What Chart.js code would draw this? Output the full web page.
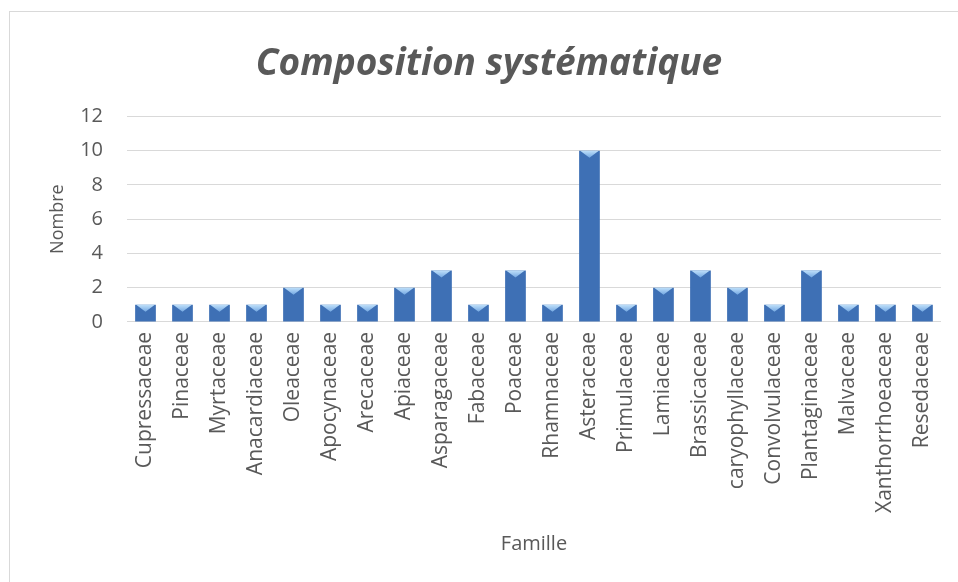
<!DOCTYPE html>
<html>
<head>
<meta charset="utf-8">
<script src="https://cdn.jsdelivr.net/npm/chart.js@4.4.0/dist/chart.umd.min.js"></script>
<style>
  html, body { margin: 0; padding: 0; background: #fff; }
  #wrap { position: relative; width: 958px; height: 582px; overflow: hidden; }
  #frame { position: absolute; left: 9px; top: 11px; width: 960px; height: 580px; border: 1px solid #D9D9D9; box-sizing: border-box; }
  #mycanvas { position: absolute; left: 0; top: 0; }
</style>
</head>
<body>
<div id="wrap">
  <div id="frame"></div>
  <canvas id="mycanvas" width="958" height="582"></canvas>
</div>
<script>
var familles = ['Cupressaceae', 'Pinaceae', 'Myrtaceae', 'Anacardiaceae', 'Oleaceae', 'Apocynaceae',
  'Arecaceae', 'Apiaceae', 'Asparagaceae', 'Fabaceae', 'Poaceae', 'Rhamnaceae', 'Asteraceae',
  'Primulaceae', 'Lamiaceae', 'Brassicaceae', 'caryophyllaceae', 'Convolvulaceae', 'Plantaginaceae',
  'Malvaceae', 'Xanthorrhoeaceae', 'Resedaceae'];
var nombre = [1, 1, 1, 1, 2, 1, 1, 2, 3, 1, 3, 1, 10, 1, 2, 3, 2, 1, 3, 1, 1, 1];
var yTicks = [0, 2, 4, 6, 8, 10, 12];

var textColor = '#595959';
var fontFam = "'Open Sans', sans-serif";

// horizontal gradient for the bevelled bars
function barFill(ctx) {
  var el = ctx.element;
  if (!el || el.x === undefined || isNaN(el.x)) return '#3E70B5';
  var c = ctx.chart.ctx;
  var half = el.width / 2;
  var g = c.createLinearGradient(el.x - half, 0, el.x + half, 0);
  g.addColorStop(0, '#2F5A98');
  g.addColorStop(0.15, '#4675BA');
  g.addColorStop(0.5, '#5283C8');
  g.addColorStop(0.8, '#3C69AC');
  g.addColorStop(1, '#1E3A6A');
  return g;
}

// light triangle on top of each bar
var bevelTop = {
  id: 'bevelTop',
  afterDatasetsDraw: function(chart) {
    var c = chart.ctx;
    chart.getDatasetMeta(0).data.forEach(function(bar) {
      var half = bar.width / 2;
      var h = Math.min(7, bar.base - bar.y);
      c.save();
      var g = c.createLinearGradient(0, bar.y, 0, bar.y + h);
      g.addColorStop(0, '#BFE0FA');
      g.addColorStop(1, '#74A8E2');
      c.fillStyle = g;
      c.beginPath();
      c.moveTo(bar.x - half + 1, bar.y);
      c.lineTo(bar.x + half - 1, bar.y);
      c.lineTo(bar.x, bar.y + h);
      c.closePath();
      c.fill();
      c.restore();
    });
  }
};

var chartdata = {
  labels: familles,
  datasets: [{
    label: 'Nombre',
    data: nombre,
    backgroundColor: barFill,
    borderWidth: 0,
    barPercentage: 0.56,
    categoryPercentage: 1.0
  }]
};

new Chart(document.getElementById('mycanvas'), {
  type: 'bar',
  data: chartdata,
  plugins: [bevelTop],
  options: {
    responsive: false,
    animation: false,
    layout: { padding: { left: 35, right: 15, top: 16, bottom: 22 } },
    plugins: {
      legend: { display: false },
      tooltip: { enabled: false },
      title: {
        display: true,
        text: 'Composition systématique',
        color: textColor,
        font: { family: fontFam, size: 37, style: 'italic', weight: 'bold' },
        padding: { top: 26, bottom: 30 }
      }
    },
    scales: {
      x: {
        grid: { display: false, drawTicks: false },
        border: { color: '#D9D9D9', width: 1 },
        ticks: {
          color: textColor,
          font: { family: fontFam, size: 21 },
          maxRotation: 90, minRotation: 90,
          autoSkip: false,
          padding: 10
        },
        title: {
          display: true,
          text: 'Famille',
          color: textColor,
          font: { family: fontFam, size: 20 },
          padding: { top: 9 }
        }
      },
      y: {
        min: 0, max: 12,
        afterBuildTicks: function(axis) {
          axis.ticks = yTicks.map(function(v) { return { value: v }; });
        },
        afterFit: function(axis) { axis.width = 92; },
        grid: { color: '#D9D9D9', drawTicks: false },
        border: { display: false },
        ticks: {
          color: textColor,
          font: { family: fontFam, size: 20 },
          padding: 24
        },
        title: {
          display: true,
          text: 'Nombre',
          color: textColor,
          font: { family: fontFam, size: 18 },
          padding: { top: 12, bottom: 10 }
        }
      }
    }
  }
});
</script>
</body>
</html>
